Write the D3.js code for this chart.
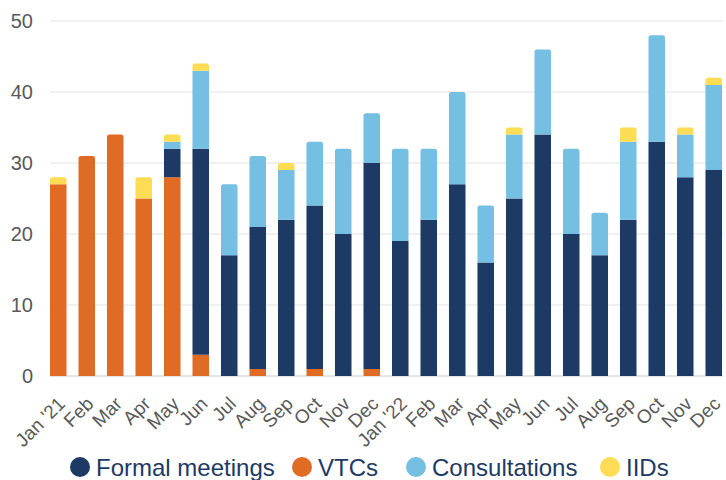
<!DOCTYPE html>
<html>
<head>
<meta charset="utf-8">
<script src="https://cdn.jsdelivr.net/npm/d3@7"></script>
<style>
  body { margin: 0; background: #fff; }
  svg { display: block; font-family: "Liberation Sans", Arial, sans-serif; }
</style>
</head>
<body>
<div id="chart"></div>
<script>
const months = ["Jan '21", "Feb", "Mar", "Apr", "May", "Jun", "Jul", "Aug", "Sep", "Oct", "Nov", "Dec",
                "Jan '22", "Feb", "Mar", "Apr", "May", "Jun", "Jul", "Aug", "Sep", "Oct", "Nov", "Dec"];
const vtcs          = [27, 31, 34, 25, 28,  3,  0,  1,  0,  1,  0,  1,  0,  0,  0,  0,  0,  0,  0,  0,  0,  0,  0,  0];
const formal        = [ 0,  0,  0,  0,  4, 29, 17, 20, 22, 23, 20, 29, 19, 22, 27, 16, 25, 34, 20, 17, 22, 33, 28, 29];
const consultations = [ 0,  0,  0,  0,  1, 11, 10, 10,  7,  9, 12,  7, 13, 10, 13,  8,  9, 12, 12,  6, 11, 15,  6, 12];
const iids          = [ 1,  0,  0,  3,  1,  1,  0,  0,  1,  0,  0,  0,  0,  0,  0,  0,  1,  0,  0,  0,  2,  0,  1,  1];
const yTicks = [0, 10, 20, 30, 40, 50];

const seriesInfo = [
    { key: "vtcs", name: "VTCs", color: "#e06b24", values: vtcs },
    { key: "formal", name: "Formal meetings", color: "#1d3a64", values: formal },
    { key: "consultations", name: "Consultations", color: "#74bfe2", values: consultations },
    { key: "iids", name: "IIDs", color: "#fedc55", values: iids }
];
const legendOrder = ["formal", "vtcs", "consultations", "iids"];

const width = 726;
const height = 480;

const table = months.map((m, i) => {
    const row = { idx: i, month: m };
    seriesInfo.forEach(s => row[s.key] = s.values[i]);
    return row;
});

const stacked = d3.stack().keys(seriesInfo.map(s => s.key))(table);

const svg = d3.select("#chart").append("svg")
    .attr("width", width)
    .attr("height", height);

const x = d3.scaleBand()
    .domain(table.map(d => d.idx))
    .range([44, 728])
    .paddingInner(0.42)
    .paddingOuter(0.21);

const y = d3.scaleLinear().domain([0, 50]).range([376, 21]);

// gridlines
svg.append("g")
    .selectAll("line")
    .data(yTicks)
    .join("line")
    .attr("x1", 50)
    .attr("x2", 723)
    .attr("y1", d => y(d))
    .attr("y2", d => y(d))
    .attr("stroke", d => d === 0 ? "#cccccc" : "#e3e3e3")
    .attr("stroke-width", 1);

// y labels
svg.append("g")
    .selectAll("text")
    .data(yTicks)
    .join("text")
    .attr("x", 33)
    .attr("y", d => y(d) + 7)
    .attr("text-anchor", "end")
    .attr("font-size", 20)
    .attr("fill", "#595959")
    .text(d => d);

// topmost non-empty segment of each bar gets the rounded top
const topKey = table.map(d => {
    let k = null;
    seriesInfo.forEach(s => { if (d[s.key] > 0) k = s.key; });
    return k;
});

function barPath(x0, y0, w, h, r) {
    r = Math.min(r, h);
    return `M${x0},${y0 + h}V${y0 + r}Q${x0},${y0} ${x0 + r},${y0}H${x0 + w - r}Q${x0 + w},${y0} ${x0 + w},${y0 + r}V${y0 + h}Z`;
}

const bars = svg.append("g");
stacked.forEach((layer, li) => {
    const s = seriesInfo[li];
    bars.append("g")
        .attr("fill", s.color)
        .selectAll("path")
        .data(layer.filter(d => d[1] > d[0]))
        .join("path")
        .attr("d", d => {
            const x0 = x(d.data.idx);
            const y0 = y(d[1]);
            const h = y(d[0]) - y(d[1]);
            const r = topKey[d.data.idx] === s.key ? 2.5 : 0;
            return barPath(x0, y0, x.bandwidth(), h, r);
        });
});

// x labels
svg.append("g")
    .selectAll("text")
    .data(table)
    .join("text")
    .attr("transform", d => `translate(${x(d.idx) + x.bandwidth() / 2 + 8},${405}) rotate(-45)`)
    .attr("text-anchor", "end")
    .attr("font-size", 19)
    .attr("fill", "#595959")
    .text(d => d.month);

// legend
const legendItems = legendOrder.map(k => seriesInfo.find(s => s.key === k));
const legendX = [80, 302, 416, 610];
const legend = svg.append("g");
legendItems.forEach((s, i) => {
    const g = legend.append("g").attr("transform", `translate(${legendX[i]},467)`);
    g.append("circle").attr("r", 10).attr("fill", s.color);
    g.append("text")
        .attr("x", 16)
        .attr("y", 8.5)
        .attr("font-size", 24)
        .attr("fill", "#1d3a64")
        .text(s.name);
});
</script>
</body>
</html>
